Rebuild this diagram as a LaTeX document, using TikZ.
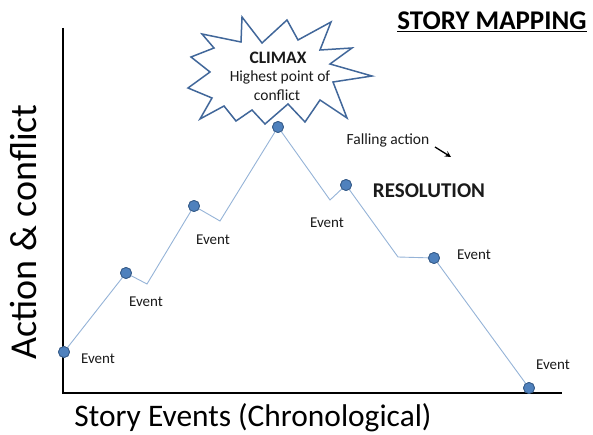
\documentclass[tikz,border=0pt]{standalone}
\usepackage{fontspec}
\setmainfont{Carlito}
\usetikzlibrary{arrows.meta}
\definecolor{dotfill}{HTML}{4F81BD}
\definecolor{dotedge}{HTML}{385D8A}
\definecolor{curveblue}{HTML}{95B3D7}
\definecolor{staredge}{HTML}{41679A}
\definecolor{txt}{HTML}{1A1A1A}
\tikzset{
  evdot/.style={circle,fill=dotfill,draw=dotedge,line width=0.8pt,minimum size=11pt,inner sep=0pt},
  evlabel/.style={font=\fontsize{15}{17}\selectfont,text=txt,inner sep=0pt},
  startext/.style={font=\fontsize{15.5}{17}\selectfont,text=txt,inner sep=0pt},
  curve/.style={draw=curveblue,line width=0.9pt,line join=miter},
  axis/.style={draw=black,line width=2.6pt},
}
\begin{document}
\begin{tikzpicture}[x=1pt,y=-1pt]
\useasboundingbox (0,0) rectangle (593,435);
% axes
\coordinate (ytop) at (63,28);
\coordinate (orig) at (63,393);
\coordinate (xend) at (562,393);
\draw[axis] (ytop) -- (orig) -- (xend);
% starburst
\draw[draw=staredge,line width=1.5pt,fill=white,line join=miter]
 (242,17) -- (262,43) -- (287,20) -- (298,40) -- (331,22) -- (320,50) -- (352,48) -- (330,64)
 -- (372,76) -- (333,82) -- (347,118) -- (320,100) -- (305,122) -- (288,104) -- (265,124)
 -- (252,110) -- (236,121) -- (224,106) -- (200,119) -- (212,98) -- (188,88) -- (210,72)
 -- (191,57) -- (214,48) -- (202,34) -- (241,42) -- cycle;
\node[startext,font=\fontsize{17.5}{19}\bfseries\selectfont] (climax) at (278,58) {CLIMAX};
\node[startext] (hp) at (280,77) {Highest point of};
\node[startext] (cf) at (277,95) {conflict};
% curve
\node[evdot] (p1) at (64,352) {};
\node[evdot] (p2) at (126,273) {};
\coordinate (k1) at (147,284);
\node[evdot] (p3) at (194,206) {};
\coordinate (k2) at (220,221);
\node[evdot] (p4) at (278,127) {};
\coordinate (k3) at (330,200);
\node[evdot] (p5) at (346,185) {};
\coordinate (k4) at (398,257);
\node[evdot] (p6) at (434,258) {};
\node[evdot] (p7) at (529,388) {};
\draw[curve] (p1.center) -- (p2.center) -- (k1) -- (p3.center) -- (k2) -- (p4.center) -- (k3)
  -- (p5.center) -- (k4) -- (p6.center) -- (p7.center);
\foreach \n in {p1,p2,p3,p4,p5,p6,p7} \node[evdot] at (\n) {};
% event labels
\node[evlabel] (e1) at (98,359) {Event};
\node[evlabel] (e2) at (146,302) {Event};
\node[evlabel] (e3) at (213,240) {Event};
\node[evlabel] (e5) at (327,223) {Event};
\node[evlabel] (e6) at (474,255) {Event};
\node[evlabel] (e7) at (553,365) {Event};
% other texts
\node[font=\fontsize{15.5}{17}\selectfont,text=txt,inner sep=0pt] (fall) at (388,140) {Falling action};
\coordinate (fa1) at (435,147);
\coordinate (fa2) at (451,157);
\draw[line width=1.3pt,-{Stealth[length=6pt,width=6pt]}] (fa1) -- (fa2);
\node[font=\fontsize{21}{23}\bfseries\selectfont,text=txt,inner sep=0pt] (res) at (429,191) {RESOLUTION};
\node[font=\fontsize{27}{30}\bfseries\selectfont,text=black,inner sep=0pt] (title) at (492,22) {\underline{STORY MAPPING}};
\node[font=\fontsize{38}{42}\selectfont,text=black,inner sep=0pt,rotate=90] (ylab) at (24,232) {Action \& conflict};
\node[font=\fontsize{31.4}{34}\selectfont,text=black,inner sep=0pt] (xlab) at (253,418) {Story Events (Chronological)};
\end{tikzpicture}
\end{document}
